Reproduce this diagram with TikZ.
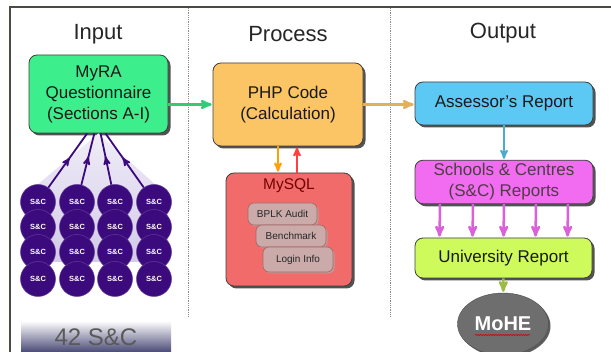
\documentclass[tikz,border=0pt]{standalone}
\usepackage{fontspec}
\setmainfont{Liberation Sans}
\usetikzlibrary{arrows,calc,shadows,shapes.geometric,decorations.markings,decorations.pathmorphing}

\definecolor{frameline}{HTML}{4B4B42}
\definecolor{myragreen}{HTML}{3DEF8C}
\definecolor{phporange}{HTML}{FBC465}
\definecolor{sqlred}{HTML}{F26B6B}
\definecolor{dbpink}{HTML}{CBAAAA}
\definecolor{assblue}{HTML}{5CC8F4}
\definecolor{scrpink}{HTML}{F26CF2}
\definecolor{unilime}{HTML}{CEFA5C}
\definecolor{mohegray}{HTML}{6E6E6E}
\definecolor{sncpurple}{HTML}{3B0A7C}
\definecolor{fanlav}{HTML}{D3CAE8}

\begin{document}
\begin{tikzpicture}[x=1pt,y=-1pt,>=stealth',
    box/.style={draw=black!75, line width=0.8pt, rounded corners=8pt, align=center,
      font=\fontsize{17}{21}\selectfont, text=black!90,
      drop shadow={shadow xshift=2.5pt, shadow yshift=-2.5pt, fill=black!75, opacity=0.9}},
    dbbox/.style={draw=black!60!red!60, line width=0.6pt, fill=dbpink, rounded corners=6pt,
      font=\fontsize{10}{12}\selectfont, text=black!85, inner sep=0pt,
      drop shadow={shadow xshift=1.5pt, shadow yshift=-1.5pt, fill=black!60!red!40, opacity=1}},
    snc/.style={circle, fill=sncpurple, draw=sncpurple!80!white, line width=0.5pt,
      minimum size=35pt, inner sep=0pt, text=white, font=\fontsize{7.5}{9}\selectfont\bfseries},
    title/.style={font=\fontsize{22}{26}\selectfont, text=black!85},
    flow/.style={->, line width=2.5pt, shorten >=1pt},
    midarrow/.style={line width=1.8pt, sncpurple, postaction={decorate},
      decoration={markings, mark=at position 0.55 with {\arrow{stealth'}}}}]

  \useasboundingbox (0,0) rectangle (611,352);
  \fill[white] (0,0) rectangle (611,352);

  % frame and column dividers
  \draw[frameline, line width=2pt] (10,352) -- (10,7) -- (611,7);
  \draw[black!45, densely dotted, line width=0.8pt] (188,8) -- (188,316);
  \draw[black!45, densely dotted, line width=0.8pt] (390,8) -- (390,316);

  % column titles
  \node[title] (tin) at (98,34) {Input};
  \node[title] (tpr) at (288,34) {Process};
  \node[title] (tout) at (503,33) {Output};

  % input
  \node[box, fill=myragreen, minimum width=139pt, minimum height=78pt] (myra) at (98.5,94)
    {MyRA\\Questionnaire\\(Sections A-I)};

  \shade[top color=fanlav!35, bottom color=fanlav] (myra.south) -- (24,196) -- (24,262) -- (168,262) -- (168,196) -- cycle;

  \foreach \row/\y in {1/202,2/227,3/252,4/279}
    \foreach \col/\x in {1/38,2/77,3/115,4/154}
      \node[snc] (c\row\col) at (\x,\y) {S\&C};

  \draw[midarrow] (c11) -- (myra.254);
  \draw[midarrow] (c12) -- (myra.264);
  \draw[midarrow] (c13) -- (myra.273);
  \draw[midarrow] (c14) -- (myra.280);

  \shade[top color=white, middle color=black!30, bottom color=black!75!blue!80] (21,321) rectangle (171,356);
  \node[font=\fontsize{24}{28}\selectfont, text=black!65] (total) at (96,337) {42 S\&C};

  % process
  \node[box, fill=phporange, minimum width=150pt, minimum height=83pt] (php) at (288,104.5)
    {PHP Code\\(Calculation)};
  \node[box, fill=sqlred, minimum width=126pt, minimum height=113pt] (mysql) at (289,229.5) {};
  \node[font=\fontsize{15.5}{18}\selectfont, text=red!45!black] (sqlname) at (mysql.center |- 0,186) {MySQL};
  \node[dbbox, minimum width=69pt, minimum height=22pt] (bplk) at (282.5,214) {BPLK Audit};
  \node[dbbox, minimum width=70pt, minimum height=22pt] (bench) at (291,236) {Benchmark};
  \node[dbbox, minimum width=70pt, minimum height=25pt] (login) at (298,259.5) {Login Info};

  % output
  \node[box, fill=assblue, minimum width=178pt, minimum height=43pt] (ass) at (504,103.5) {Assessor's Report};
  \node[box, fill=scrpink, minimum width=178pt, minimum height=42pt, text=black!80!magenta] (scr) at (504,182)
    {Schools \& Centres\\(S\&C) Reports};
  \node[box, fill=unilime, minimum width=177pt, minimum height=40pt] (uni) at (503.5,258) {University Report};
  \node[ellipse, draw=black!70, fill=mohegray, minimum width=91pt, minimum height=62pt, inner sep=0pt,
    drop shadow={shadow xshift=2pt, shadow yshift=-2pt, fill=black!70, opacity=0.9},
    text=white, font=\fontsize{20}{24}\selectfont\bfseries] (mohe) at (503,324) {MoHE};
  \draw[red!85!black, line width=0.6pt, decorate, decoration={snake, amplitude=0.6pt, segment length=2.5pt}]
    ($(mohe.center)+(-28,11)$) -- ($(mohe.center)+(27,11)$);

  % flows
  \draw[flow, myragreen!85!black] (myra.east |- php.west) -- (php.west);
  \draw[flow, phporange!90!black] (php.east) -- (php.east -| ass.west);
  \draw[flow, orange!75!yellow, line width=2pt] ($(php.south)+(-10,0)$) -- ($(mysql.north)+(-11,0)$);
  \draw[flow, red!75, line width=2pt] ($(mysql.north)+(8,0)$) -- ($(php.south)+(9,0)$);
  \draw[flow, assblue!85!black, line width=2pt] (ass) -- (scr);
  \foreach \dx in {-64,-31,0,32,64}
    \draw[flow, scrpink!90!black] ($(scr.south)+(\dx,0)$) -- ($(uni.north)+(\dx,0)$);
  \draw[flow, unilime!75!black] (uni) -- (mohe);
\end{tikzpicture}
\end{document}
